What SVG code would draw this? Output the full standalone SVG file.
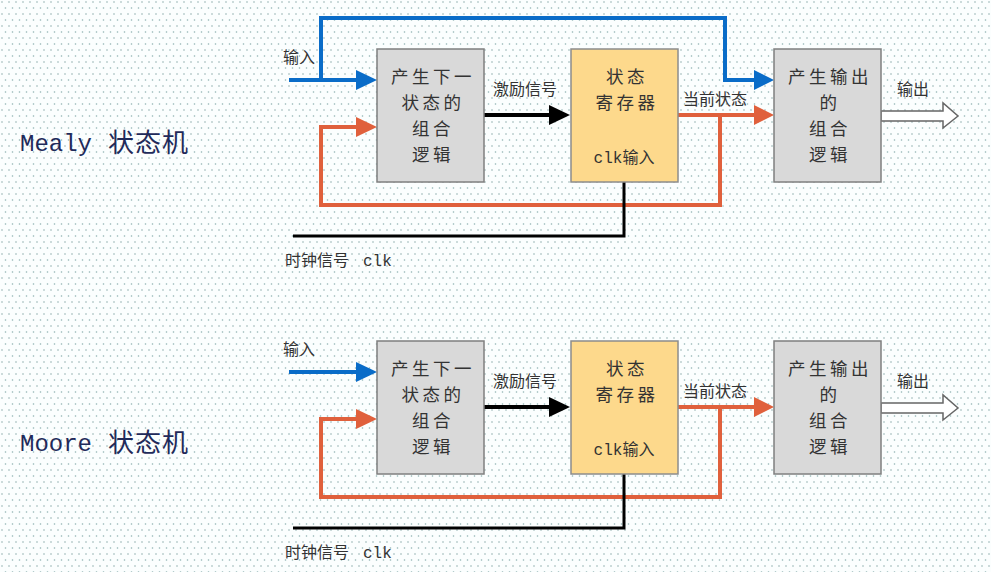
<svg xmlns="http://www.w3.org/2000/svg" width="991" height="572" viewBox="0 0 991 572">
<defs>
<pattern id="dots" x="0" y="0" width="14" height="12" patternUnits="userSpaceOnUse">
<circle cx="2" cy="2" r="0.8" fill="#8fb0b0"/>
<circle cx="9" cy="2" r="0.8" fill="#8fb0b0"/>
<circle cx="5.5" cy="8" r="0.8" fill="#8fb0b0"/>
<circle cx="12.5" cy="8" r="0.8" fill="#8fb0b0"/>
</pattern>
<style>
.gray{fill:#d9d9d9;stroke:#7f7f7f;stroke-width:1.5}
.reg{fill:#fdd98c;stroke:#8c8c8c;stroke-width:1.5}
.bt{font-family:"Noto Sans CJK SC","Noto Sans",sans-serif;font-size:17.5px;fill:#333;text-anchor:middle;letter-spacing:3.5px}
.lb{font-family:"Noto Sans CJK SC","Noto Sans",sans-serif;font-size:16px;fill:#333}
.mono{font-family:"Liberation Mono","DejaVu Sans Mono",monospace}
.title{font-size:26px;fill:#1f2a5a}
.cjk{font-family:"Noto Sans CJK SC",sans-serif;letter-spacing:1px}
.blue{fill:none;stroke:#0a6cc8;stroke-width:4}
.orange{fill:none;stroke:#e0603c;stroke-width:4}
.blk{fill:none;stroke:#000;stroke-width:4}
.clk{fill:none;stroke:#000;stroke-width:3}
.bh{fill:#0a6cc8}
.oh{fill:#e0603c}
.kh{fill:#000}
.out{fill:#fff;stroke:#666;stroke-width:1.5}
</style>
</defs>
<rect width="991" height="572" fill="#fbfefe"/>
<rect width="991" height="572" fill="url(#dots)"/>

<!-- Mealy -->
<g id="mealy-title">
<text x="20" y="151" class="title"><tspan class="mono" font-size="24">Mealy</tspan><tspan x="108" y="152" class="cjk">状态机</tspan></text>
</g>
<g id="connectors-mealy">
<polyline class="blue" points="289,80 358,80"/>
<polyline class="blue" points="321,80 321,18 725,18 725,80 756,80"/>
<polygon class="bh" points="356,70 377,80 356,90"/>
<polygon class="bh" points="754,70 774,80 754,90"/>
<polyline class="orange" points="678,115 756,115"/>
<polygon class="oh" points="754,105 774,115 754,125"/>
<polyline class="orange" points="720,115 720,205 321,205 321,127 358,127"/>
<polygon class="oh" points="356,117 377,127 356,137"/>
<polyline class="blk" points="484,115 551,115"/>
<polygon class="kh" points="549,105 570,115 549,125"/>
<polyline class="clk" points="293,236 624,236 624,181"/>
<polygon class="out" points="881,111 943,111 943,103 958,116 943,128 943,121 881,121"/>
<text x="283" y="63" class="lb" font-size="15">输入</text>
<text x="493" y="95" class="lb">激励信号</text>
<text x="683" y="105" class="lb">当前状态</text>
<text x="897" y="95" class="lb">输出</text>
<text x="285" y="266" class="lb">时钟信号 <tspan x="363" class="mono">clk</tspan></text>
</g>
<g id="mealy-next">
<rect x="377" y="49" width="107" height="133" class="gray"/>
<text class="bt" x="433" y="83">产生下一<tspan x="433" dy="26">状态的</tspan><tspan x="433" dy="26">组合</tspan><tspan x="433" dy="26">逻辑</tspan></text>
</g>
<g id="mealy-reg">
<rect x="571" y="49" width="107" height="133" class="reg"/>
<text class="bt" x="627" y="83">状态<tspan x="627" dy="26">寄存器</tspan></text>
<text class="lb" x="624" y="163" text-anchor="middle"><tspan class="mono">clk</tspan>输入</text>
</g>
<g id="mealy-out">
<rect x="774" y="49" width="107" height="133" class="gray"/>
<text class="bt" x="830" y="83">产生输出<tspan x="830" dy="26">的</tspan><tspan x="830" dy="26">组合</tspan><tspan x="830" dy="26">逻辑</tspan></text>
</g>

<!-- Moore -->
<g id="moore-title">
<text x="20" y="451" class="title"><tspan class="mono" font-size="24">Moore</tspan><tspan x="108" y="452" class="cjk">状态机</tspan></text>
</g>
<g id="connectors-moore">
<polyline class="blue" points="289,372 358,372"/>
<polygon class="bh" points="356,362 377,372 356,382"/>
<polyline class="orange" points="678,407 756,407"/>
<polygon class="oh" points="754,397 774,407 754,417"/>
<polyline class="orange" points="720,407 720,497 321,497 321,419 358,419"/>
<polygon class="oh" points="356,409 377,419 356,429"/>
<polyline class="blk" points="484,407 551,407"/>
<polygon class="kh" points="549,397 570,407 549,417"/>
<polyline class="clk" points="293,528 624,528 624,473"/>
<polygon class="out" points="881,403 943,403 943,395 958,408 943,420 943,413 881,413"/>
<text x="283" y="355" class="lb" font-size="15">输入</text>
<text x="493" y="387" class="lb">激励信号</text>
<text x="683" y="397" class="lb">当前状态</text>
<text x="897" y="387" class="lb">输出</text>
<text x="285" y="558" class="lb">时钟信号 <tspan x="363" class="mono">clk</tspan></text>
</g>
<g id="moore-next">
<rect x="377" y="341" width="107" height="133" class="gray"/>
<text class="bt" x="433" y="375">产生下一<tspan x="433" dy="26">状态的</tspan><tspan x="433" dy="26">组合</tspan><tspan x="433" dy="26">逻辑</tspan></text>
</g>
<g id="moore-reg">
<rect x="571" y="341" width="107" height="133" class="reg"/>
<text class="bt" x="627" y="375">状态<tspan x="627" dy="26">寄存器</tspan></text>
<text class="lb" x="624" y="455" text-anchor="middle"><tspan class="mono">clk</tspan>输入</text>
</g>
<g id="moore-out">
<rect x="774" y="341" width="107" height="133" class="gray"/>
<text class="bt" x="830" y="375">产生输出<tspan x="830" dy="26">的</tspan><tspan x="830" dy="26">组合</tspan><tspan x="830" dy="26">逻辑</tspan></text>
</g>
</svg>
